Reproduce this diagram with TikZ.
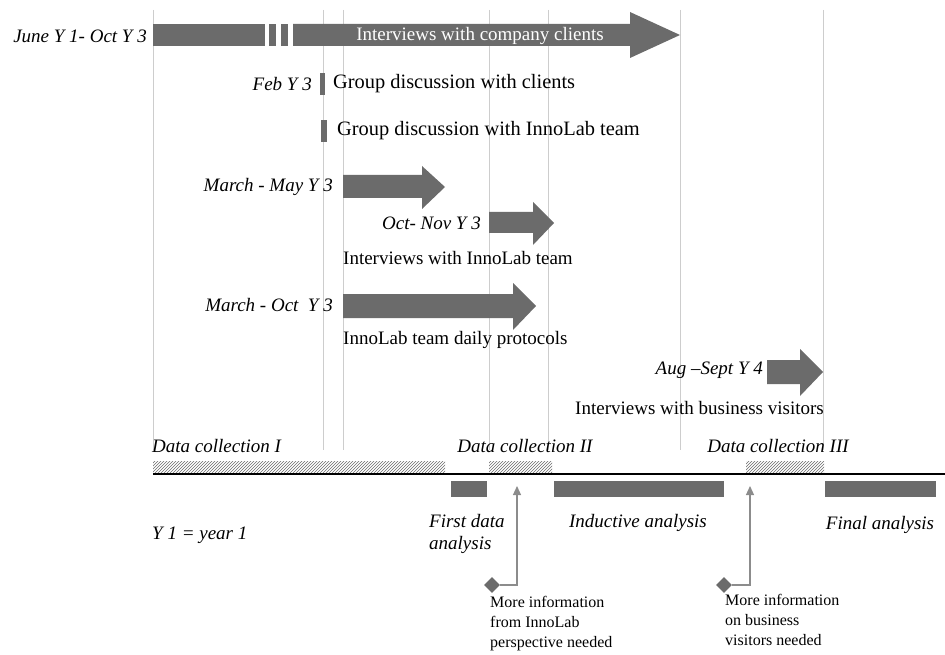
\documentclass[tikz,border=0pt]{standalone}
\usepackage{fontspec}
\setmainfont{Liberation Serif}
\usetikzlibrary{patterns,shapes.geometric,arrows.meta}
\definecolor{bargray}{HTML}{6B6B6B}
\definecolor{gridgray}{HTML}{CDCDCD}
\definecolor{linkgray}{HTML}{8C8C8C}
\begin{document}
\begin{tikzpicture}[x=1pt,y=-1pt,
  every node/.style={inner sep=0pt,font=\fontsize{19}{22}\selectfont},
  lab/.style={font=\itshape\fontsize{19}{22}\selectfont},
  txt/.style={font=\fontsize{19}{22}\selectfont},
  bigtxt/.style={font=\fontsize{20.4}{24}\selectfont},
  small/.style={font=\fontsize{16}{20}\selectfont,align=left},
  bar/.style={fill=bargray},
  gridl/.style={draw=gridgray,line width=0.9pt},
  hatch/.style={pattern=north east lines,pattern color=bargray},
  link/.style={draw=linkgray,line width=1.2pt},
  dia/.style={diamond,fill=bargray,minimum size=16pt,inner sep=0pt}]
\useasboundingbox (0,0) rectangle (945,655);
% grid lines
\foreach \x in {153,323,343,489,548,680,823}
  \draw[gridl] (\x,10) -- (\x,450);
% top bar
\fill[bar] (153,24) rectangle (265,46);
\fill[bar] (269,24) rectangle (276,46);
\fill[bar] (281,24) rectangle (288,46);
\fill[bar] (293,24) -- (630,24) -- (630,12) -- (680,35) -- (630,58) -- (630,46) -- (293,46) -- cycle;
\node[txt,text=white] (tclients) at (480,36) {Interviews with company clients};
\node[lab,anchor=east] (l1) at (147,36) {June Y 1- Oct Y 3};
% Feb
\fill[bar] (320,73) rectangle (325,95);
\node[lab,anchor=east] (l2) at (312,84) {Feb Y 3};
\node[bigtxt,anchor=west] (t2) at (333,84) {Group discussion with clients};
\fill[bar] (321,120) rectangle (327,142);
\node[bigtxt,anchor=west] (t3) at (337,131) {Group discussion with InnoLab team};
% March-May
\fill[bar] (343,175) -- (422,175) -- (422,166) -- (445,187) -- (422,209) -- (422,198) -- (343,198) -- cycle;
\node[lab,anchor=east] (l4) at (333,187) {March - May Y 3};
% Oct-Nov
\fill[bar] (489,212) -- (533,212) -- (533,202) -- (554,223) -- (533,245) -- (533,233) -- (489,233) -- cycle;
\node[lab,anchor=east] (l5) at (481,223) {Oct- Nov Y 3};
\node[txt,anchor=west] (t5) at (343,258) {Interviews with InnoLab team};
% March-Oct
\fill[bar] (343,294) -- (513,294) -- (513,283) -- (536,306) -- (513,330) -- (513,318) -- (343,318) -- cycle;
\node[lab,anchor=east] (l6) at (333,305) {March - Oct~ Y 3};
\node[txt,anchor=west] (t6) at (343,340) {InnoLab team daily protocols};
% Aug-Sept
\fill[bar] (767,360) -- (800,360) -- (800,349) -- (823,372) -- (800,396) -- (800,384) -- (767,384) -- cycle;
\node[lab,anchor=east] (l7) at (763,370) {Aug --Sept Y 4};
\node[txt,anchor=west] (t7) at (575,408) {Interviews with business visitors};
% timeline
\draw[line width=1.1pt] (153,474) -- (945,474);
\fill[hatch] (153,461) rectangle (445,472);
\fill[hatch] (489,461) rectangle (552,472);
\fill[hatch] (746,461) rectangle (824,472);
\node[lab,anchor=west] (dc1) at (152,446) {Data collection I};
\node[lab] (dc2) at (525,446) {Data collection II};
\node[lab] (dc3) at (778,446) {Data collection III};
% analysis bars
\fill[bar] (451,481) rectangle (487,497);
\fill[bar] (554,481) rectangle (724,497);
\fill[bar] (825,481) rectangle (936,497);
\node[lab,align=left,anchor=west] (a1) at (429,534) {First data\\analysis};
\node[lab] (a2) at (638,523) {Inductive analysis};
\node[lab] (a3) at (880,525) {Final analysis};
\node[lab,anchor=west] (y1) at (152,535) {Y 1 = year 1};
% annotations
\node[dia] (d1) at (492,585) {};
\coordinate (p1) at (517,486);
\draw[link,-{Triangle[length=9pt,width=8pt]}] (d1.east) -- (517,585) -- (p1);
\node[small,anchor=north west] (m1) at (490,596) {More information\\from InnoLab\\perspective needed};
\node[dia] (d2) at (724,585) {};
\coordinate (p2) at (750,486);
\draw[link,-{Triangle[length=9pt,width=8pt]}] (d2.east) -- (750,585) -- (p2);
\node[small,anchor=north west] (m2) at (725,594) {More information\\on business\\visitors needed};
\end{tikzpicture}
\end{document}
